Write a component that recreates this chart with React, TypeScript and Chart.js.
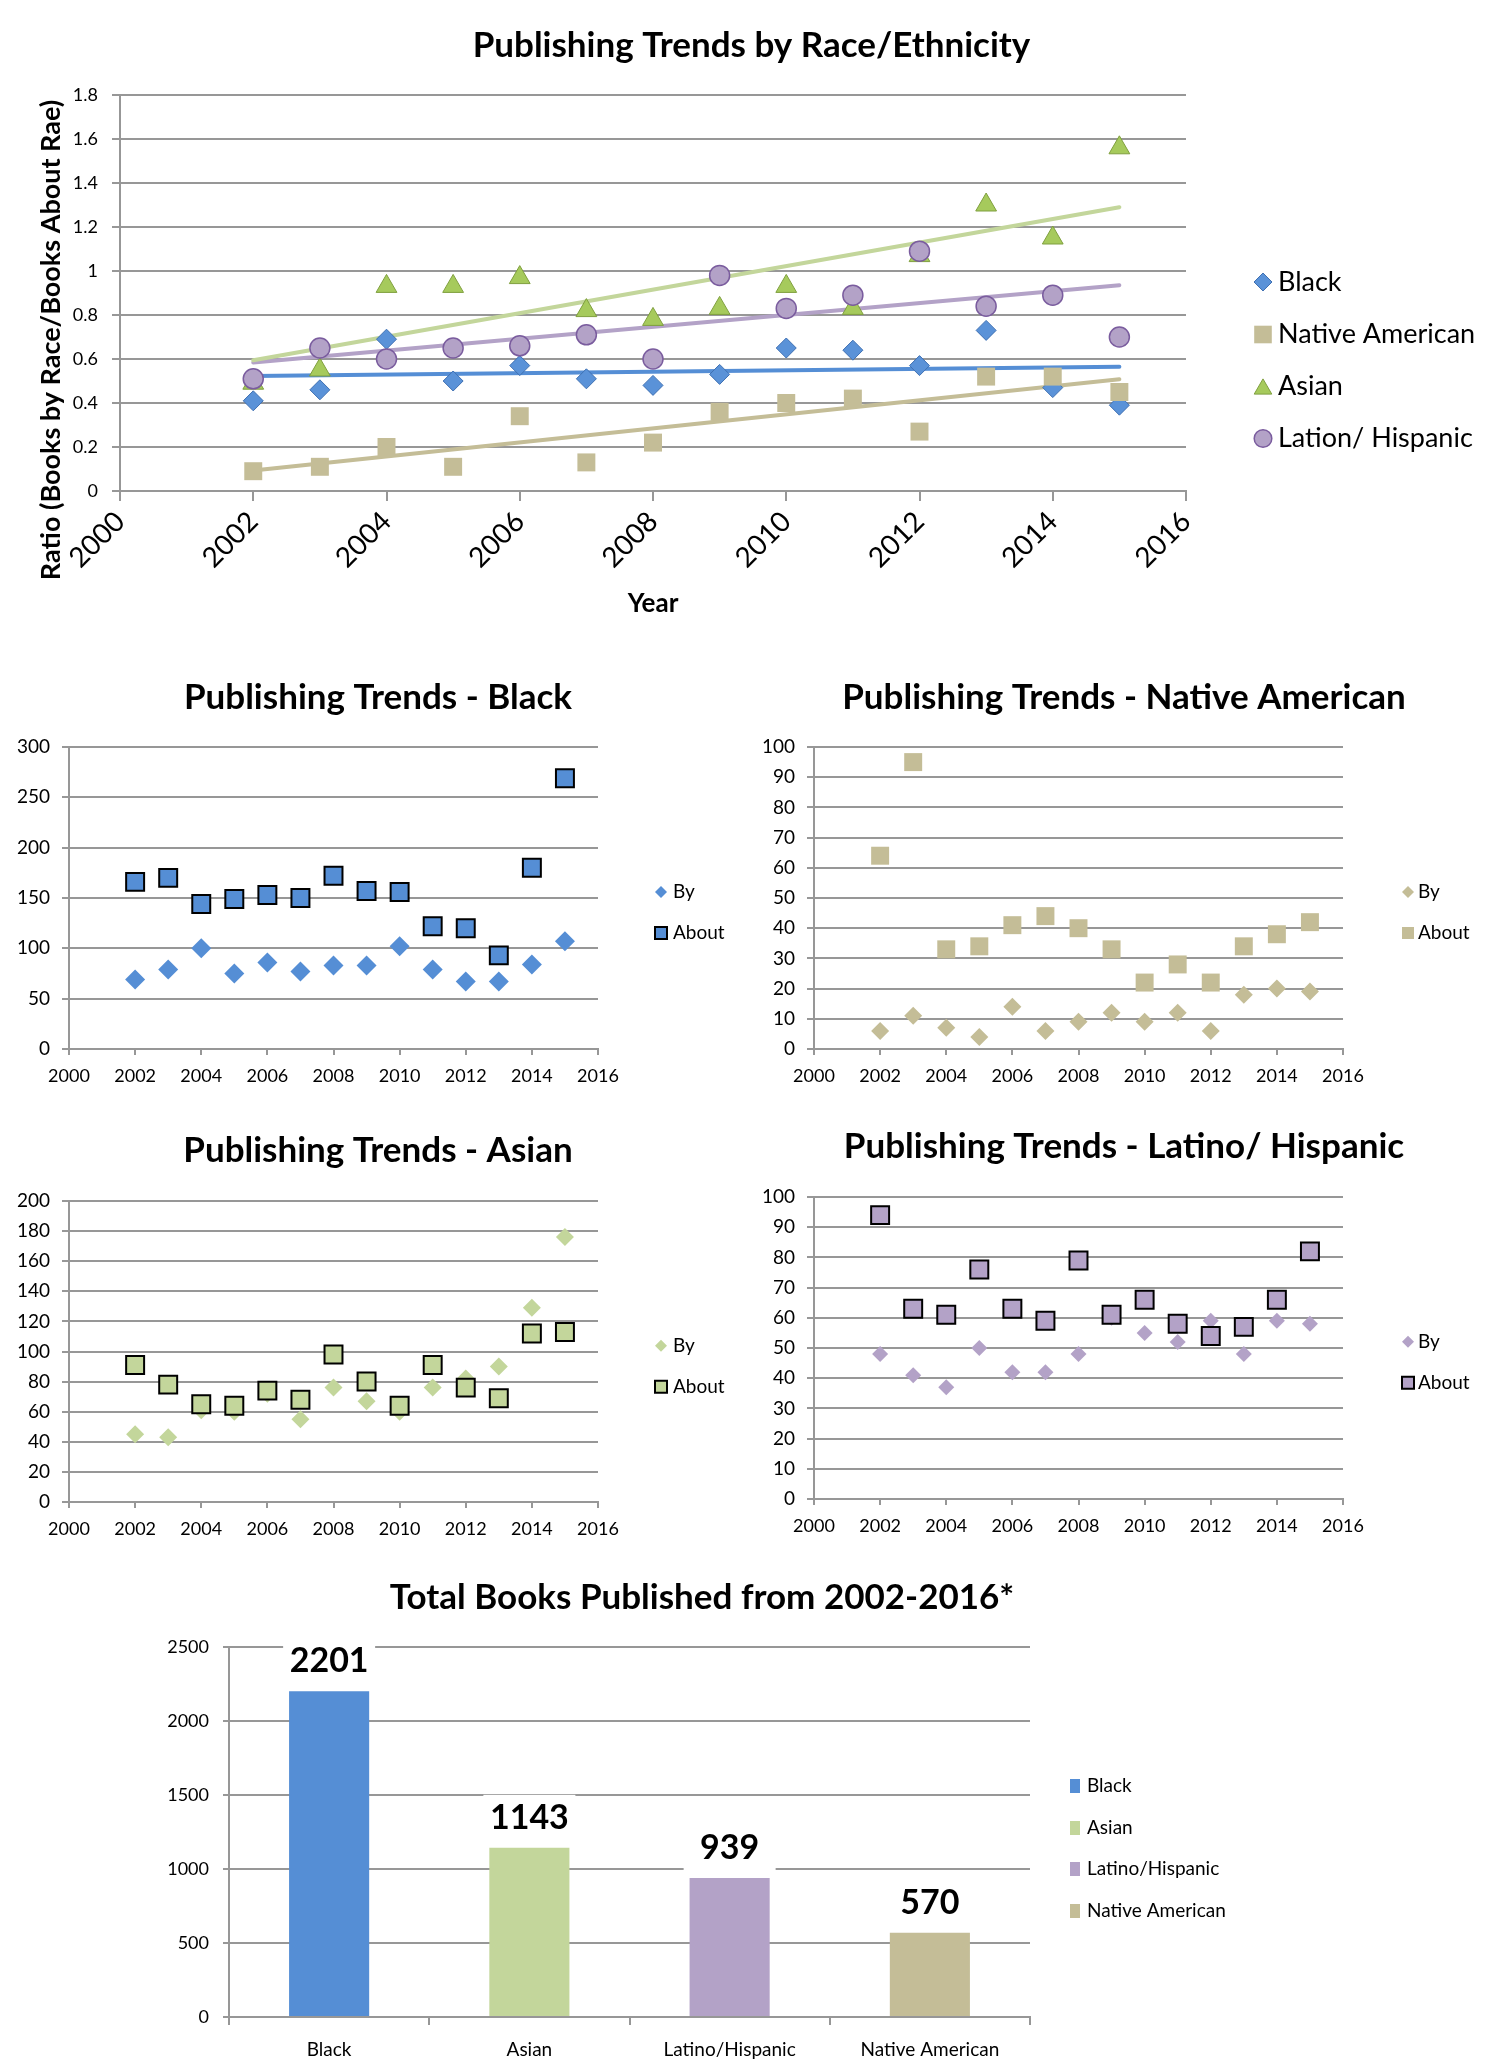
import React, { useEffect, useRef } from 'react';
import { Chart, registerables } from 'chart.js';

Chart.register(...registerables);
Chart.defaults.font.family = 'Lato, "Open Sans", sans-serif';
Chart.defaults.color = '#000';

// ---------------- data ----------------
const years = [2002, 2003, 2004, 2005, 2006, 2007, 2008, 2009, 2010, 2011, 2012, 2013, 2014, 2015];

const ratioBlack = [0.41, 0.46, 0.69, 0.5, 0.57, 0.51, 0.48, 0.53, 0.65, 0.64, 0.57, 0.73, 0.47, 0.39];
const ratioNative = [0.09, 0.11, 0.2, 0.11, 0.34, 0.13, 0.22, 0.36, 0.4, 0.42, 0.27, 0.52, 0.52, 0.45];
const ratioAsian = [0.49, 0.55, 0.93, 0.93, 0.97, 0.82, 0.78, 0.83, 0.93, 0.83, 1.07, 1.3, 1.15, 1.56];
const ratioLatino = [0.51, 0.65, 0.6, 0.65, 0.66, 0.71, 0.6, 0.98, 0.83, 0.89, 1.09, 0.84, 0.89, 0.7];

const trendYears = [2002, 2015];
const trendBlack = [0.523, 0.565];
const trendNative = [0.093, 0.508];
const trendAsian = [0.594, 1.29];
const trendLatino = [0.584, 0.935];

const blackBy = [69, 79, 100, 75, 86, 77, 83, 83, 102, 79, 67, 67, 84, 107];
const blackAbout = [166, 170, 144, 149, 153, 150, 172, 157, 156, 122, 120, 93, 180, 269];
const nativeBy = [6, 11, 7, 4, 14, 6, 9, 12, 9, 12, 6, 18, 20, 19];
const nativeAbout = [64, 95, 33, 34, 41, 44, 40, 33, 22, 28, 22, 34, 38, 42];
const asianBy = [45, 43, 61, 60, 72, 55, 76, 67, 60, 76, 82, 90, 129, 176];
const asianAbout = [91, 78, 65, 64, 74, 68, 98, 80, 64, 91, 76, 69, 112, 113];
const latinoBy = [48, 41, 37, 50, 42, 42, 48, 60, 55, 52, 59, 48, 59, 58];
const latinoAbout = [94, 63, 61, 76, 63, 59, 79, 61, 66, 58, 54, 57, 66, 82];

const totalCategories = ['Black', 'Asian', 'Latino/Hispanic', 'Native American'];
const totalBooks = [2201, 1143, 939, 570];

// ---------------- styling ----------------
const GRID = '#979797';
const C_BLACK = '#558ed5';
const C_NATIVE = '#c4bd97';
const C_ASIAN = '#c3d69b';
const C_LATINO = '#b3a2c7';

const pts = (xs: number[], ys: number[]) => xs.map((x, i) => ({ x, y: ys[i] }));

type Box = { left: number; top: number; width: number; height: number };
type Area = { L: number; T: number; R: number; B: number };

type LegendItem = {
  text: string; style: string; x: number; y: number; tx: number; size: number;
  fill: string; stroke?: string; lw?: number; w?: number; h?: number;
};

function drawMarker(ctx: CanvasRenderingContext2D, it: LegendItem) {
  const { x, y, size: r } = it;
  ctx.beginPath();
  switch (it.style) {
    case 'rectRot':
      ctx.moveTo(x, y - r); ctx.lineTo(x + r, y); ctx.lineTo(x, y + r); ctx.lineTo(x - r, y); ctx.closePath();
      break;
    case 'rect':
      ctx.rect(x - r, y - r, 2 * r, 2 * r);
      break;
    case 'bar':
      ctx.rect(x - (it.w || 10) / 2, y - (it.h || 14) / 2, it.w || 10, it.h || 14);
      break;
    case 'triangle': {
      const h = r * 1.732;
      ctx.moveTo(x, y - h / 2); ctx.lineTo(x + r, y + h / 2); ctx.lineTo(x - r, y + h / 2); ctx.closePath();
      break;
    }
    default:
      ctx.arc(x, y, r, 0, Math.PI * 2);
  }
  ctx.fillStyle = it.fill;
  ctx.fill();
  if (it.lw) { ctx.lineWidth = it.lw; ctx.strokeStyle = it.stroke || '#000'; ctx.stroke(); }
}

function decor(cfg: {
  legend?: LegendItem[]; legendFont?: string;
  yTitle?: { text: string; x: number; y: number; font: string };
  barLabels?: { font: string; offset: number; boxW: number; boxH: number };
}) {
  return {
    id: 'decor',
    afterDatasetsDraw(chart: any) {
      const b = cfg.barLabels;
      if (!b) return;
      const ctx: CanvasRenderingContext2D = chart.ctx;
      const meta = chart.getDatasetMeta(0);
      const values = chart.data.datasets[0].data;
      ctx.save();
      ctx.font = b.font; ctx.textAlign = 'center'; ctx.textBaseline = 'middle';
      meta.data.forEach((el: any, i: number) => {
        const cx = el.x, cy = el.y - b.offset;
        ctx.fillStyle = '#fff';
        ctx.fillRect(cx - b.boxW / 2, cy - b.boxH / 2, b.boxW, b.boxH);
        ctx.fillStyle = '#000';
        ctx.fillText(String(values[i]), cx, cy);
      });
      ctx.restore();
    },
    afterDraw(chart: any) {
      const ctx: CanvasRenderingContext2D = chart.ctx;
      ctx.save();
      if (cfg.legend) {
        cfg.legend.forEach((it) => {
          drawMarker(ctx, it);
          ctx.fillStyle = '#000';
          ctx.font = cfg.legendFont || '18px Lato';
          ctx.textAlign = 'left'; ctx.textBaseline = 'middle';
          ctx.fillText(it.text, it.tx, it.y);
        });
      }
      if (cfg.yTitle) {
        const t = cfg.yTitle;
        ctx.translate(t.x, t.y);
        ctx.rotate(-Math.PI / 2);
        ctx.font = t.font; ctx.fillStyle = '#000';
        ctx.textAlign = 'center'; ctx.textBaseline = 'middle';
        ctx.fillText(t.text, 0, 0);
      }
      ctx.restore();
    },
  };
}

// title box fills the space above the chart area, text middle at `middle`
function titleOpts(text: string, size: number, middle: number, areaTop: number) {
  const lh = size * 1.2;
  return {
    display: true, text, color: '#000',
    font: { size, weight: 'bold' as const, lineHeight: 1.2 },
    padding: { top: middle - lh / 2, bottom: areaTop - middle - lh / 2 },
  };
}

function gridY(min: number, max: number, step: number, yw: number, font: number, tickLength: number, padding: number, fmt: (v: number) => string) {
  return {
    min, max,
    afterFit: (s: any) => { s.width = yw; },
    ticks: { stepSize: step, font: { size: font }, padding, color: '#000', callback: (v: any) => fmt(Number(v)) },
    grid: { color: GRID, lineWidth: 2, tickLength },
    border: { color: GRID, width: 2 },
  };
}

// invisible right-hand spacer axis: reserves room for the legend without shifting the title
function spacer(width: number) {
  return {
    type: 'linear', position: 'right', display: true, min: 0, max: 1,
    afterFit: (s: any) => { s.width = width; },
    ticks: { display: false },
    grid: { display: false, drawTicks: false },
    border: { display: false },
  };
}

const baseOptions = {
  responsive: false, animation: false, events: [] as string[],
  layout: { padding: 0 },
};

// ---------------- small scatter charts ----------------
function smallScatter(opts: {
  box: Box; area: Area; title: string; titleMid: number; yMax: number; yStep: number;
  by: number[]; about: number[]; color: string; byRadius: number; aboutBorder: boolean;
  legendX: number; legendTX: number; legendY: [number, number];
}) {
  const { box, area } = opts;
  const xh = box.height - area.B;
  return {
    type: 'scatter',
    data: {
      datasets: [
        {
          label: 'By', data: pts(years, opts.by), pointStyle: 'rectRot', pointRadius: opts.byRadius,
          backgroundColor: opts.color, borderColor: opts.color, borderWidth: 0, order: 2, yAxisID: 'y',
        },
        {
          label: 'About', data: pts(years, opts.about), pointStyle: 'rect', pointRadius: 12.7,
          backgroundColor: opts.color, borderColor: '#000', borderWidth: opts.aboutBorder ? 2 : 0, order: 1, yAxisID: 'y',
        },
      ],
    },
    options: {
      ...baseOptions,
      plugins: { legend: { display: false }, tooltip: { enabled: false }, title: titleOpts(opts.title, 35, opts.titleMid, area.T) },
      scales: {
        x: {
          type: 'linear', min: 2000, max: 2016,
          afterFit: (s: any) => { s.height = xh; },
          ticks: { stepSize: 2, autoSkip: false, maxRotation: 0, minRotation: 0, font: { size: 18 }, padding: 10, color: '#000', callback: (v: any) => String(v) },
          grid: { drawOnChartArea: false, drawTicks: true, tickLength: 6, color: GRID, lineWidth: 2 },
          border: { color: GRID, width: 2 },
        },
        y: gridY(0, opts.yMax, opts.yStep, area.L, 19, 7, 12, (v) => String(v)),
        y2: spacer(box.width - area.R),
      },
    },
    plugins: [
      decor({
        legendFont: '19px Lato',
        legend: [
          { text: 'By', style: 'rectRot', x: opts.legendX, y: opts.legendY[0], tx: opts.legendTX, size: 6, fill: opts.color },
          {
            text: 'About', style: 'rect', x: opts.legendX, y: opts.legendY[1], tx: opts.legendTX, size: 6,
            fill: opts.color, stroke: '#000', lw: opts.aboutBorder ? 2 : 0,
          },
        ],
      }),
    ],
  };
}

// ---------------- boxes ----------------
const BOX_TOP: Box = { left: 0, top: 0, width: 1503, height: 640 };
const BOX_BLACK: Box = { left: 0, top: 650, width: 756, height: 455 };
const BOX_NATIVE: Box = { left: 746, top: 650, width: 756, height: 455 };
const BOX_ASIAN: Box = { left: 0, top: 1105, width: 756, height: 440 };
const BOX_LATINO: Box = { left: 746, top: 1105, width: 756, height: 440 };
const BOX_BAR: Box = { left: 0, top: 1560, width: 1404, height: 512 };

function makeTop() {
  const area: Area = { L: 120, T: 95, R: 1186, B: 491 };
  const box = BOX_TOP;
  const xh = box.height - area.B;
  const trend = (ys: number[], color: string) => ({
    type: 'line', data: pts(trendYears, ys), showLine: true, pointRadius: 0, borderColor: color,
    borderWidth: 4, borderCapStyle: 'round', fill: false, order: 10, yAxisID: 'y',
  });
  return {
    type: 'scatter',
    data: {
      datasets: [
        { label: 'Black', data: pts(years, ratioBlack), pointStyle: 'rectRot', pointRadius: 10, backgroundColor: '#5a92d8', borderColor: '#3f70b2', borderWidth: 1, order: 4, yAxisID: 'y' },
        { label: 'Native American', data: pts(years, ratioNative), pointStyle: 'rect', pointRadius: 12.7, backgroundColor: C_NATIVE, borderColor: C_NATIVE, borderWidth: 0, order: 3, yAxisID: 'y' },
        { label: 'Asian', data: pts(years, ratioAsian), pointStyle: 'triangle', pointRadius: 12, backgroundColor: '#a6ca5c', borderColor: '#7f9f3e', borderWidth: 1, order: 2, yAxisID: 'y' },
        { label: 'Lation/ Hispanic', data: pts(years, ratioLatino), pointStyle: 'circle', pointRadius: 10, backgroundColor: C_LATINO, borderColor: '#7a5c9e', borderWidth: 1.5, order: 1, yAxisID: 'y' },
        trend(trendBlack, C_BLACK),
        trend(trendNative, C_NATIVE),
        trend(trendAsian, C_ASIAN),
        trend(trendLatino, C_LATINO),
      ],
    },
    options: {
      ...baseOptions,
      plugins: { legend: { display: false }, tooltip: { enabled: false }, title: titleOpts('Publishing Trends by Race/Ethnicity', 35, 46, area.T) },
      scales: {
        x: {
          type: 'linear', min: 2000, max: 2016,
          afterFit: (s: any) => { s.height = xh; },
          ticks: { stepSize: 2, autoSkip: false, minRotation: 45, maxRotation: 45, font: { size: 28 }, padding: 4, color: '#000', callback: (v: any) => String(v) },
          grid: { drawOnChartArea: false, drawTicks: true, tickLength: 10, color: GRID, lineWidth: 2 },
          border: { color: GRID, width: 2 },
          title: { display: true, text: 'Year', color: '#000', font: { size: 26, weight: 'bold' }, padding: { top: 0, bottom: 20.4 } },
        },
        y: gridY(0, 1.8, 0.2, area.L, 18, 8, 14, (v) => String(Math.round(v * 10) / 10)),
        y2: spacer(box.width - area.R),
      },
    },
    plugins: [
      decor({
        legendFont: '27px Lato',
        legend: [
          { text: 'Black', style: 'rectRot', x: 1263, y: 282, tx: 1278, size: 9, fill: '#5a92d8', stroke: '#3f70b2', lw: 1 },
          { text: 'Native American', style: 'rect', x: 1263, y: 334.5, tx: 1278, size: 8.8, fill: C_NATIVE },
          { text: 'Asian', style: 'triangle', x: 1263, y: 386.5, tx: 1278, size: 8.8, fill: '#a6ca5c', stroke: '#7f9f3e', lw: 1 },
          { text: 'Lation/ Hispanic', style: 'circle', x: 1263, y: 438.5, tx: 1278, size: 8.8, fill: C_LATINO, stroke: '#7a5c9e', lw: 1.5 },
        ],
        yTitle: { text: 'Ratio (Books by Race/Books About Rae)', x: 51, y: 340, font: 'bold 27px Lato' },
      }),
    ],
  };
}

const makeBlack = () => smallScatter({
  box: BOX_BLACK, area: { L: 69, T: 97, R: 598, B: 399 }, title: 'Publishing Trends - Black', titleMid: 48,
  yMax: 300, yStep: 50, by: blackBy, about: blackAbout, color: C_BLACK, byRadius: 10, aboutBorder: true,
  legendX: 661, legendTX: 673, legendY: [242, 283],
});

const makeNative = () => smallScatter({
  box: BOX_NATIVE, area: { L: 68, T: 97, R: 597, B: 399 }, title: 'Publishing Trends - Native American', titleMid: 48,
  yMax: 100, yStep: 10, by: nativeBy, about: nativeAbout, color: C_NATIVE, byRadius: 9, aboutBorder: false,
  legendX: 662, legendTX: 672, legendY: [242, 283],
});

const makeAsian = () => smallScatter({
  box: BOX_ASIAN, area: { L: 69, T: 96, R: 598, B: 397 }, title: 'Publishing Trends - Asian', titleMid: 46,
  yMax: 200, yStep: 20, by: asianBy, about: asianAbout, color: C_ASIAN, byRadius: 9, aboutBorder: true,
  legendX: 661, legendTX: 673, legendY: [240.7, 281.7],
});

const makeLatino = () => smallScatter({
  box: BOX_LATINO, area: { L: 68, T: 92, R: 597, B: 394 }, title: 'Publishing Trends - Latino/ Hispanic', titleMid: 42,
  yMax: 100, yStep: 10, by: latinoBy, about: latinoAbout, color: C_LATINO, byRadius: 8, aboutBorder: true,
  legendX: 662, legendTX: 672, legendY: [236.7, 277.7],
});

function makeBar() {
  const box = BOX_BAR;
  const area: Area = { L: 229, T: 87, R: 1030, B: 457 };
  const xh = box.height - area.B;
  const colors = [C_BLACK, C_ASIAN, C_LATINO, C_NATIVE];
  return {
    type: 'bar',
    data: {
      labels: totalCategories,
      datasets: [{ data: totalBooks, backgroundColor: colors, barPercentage: 0.4, categoryPercentage: 1, yAxisID: 'y' }],
    },
    options: {
      ...baseOptions,
      plugins: { legend: { display: false }, tooltip: { enabled: false }, title: titleOpts('Total Books Published from 2002-2016*', 35, 38, area.T) },
      scales: {
        x: {
          afterFit: (s: any) => { s.height = xh; },
          ticks: { font: { size: 19 }, padding: 13, color: '#000' },
          grid: { drawOnChartArea: false, drawTicks: true, tickLength: 8, color: GRID, lineWidth: 2, offset: true },
          border: { color: GRID, width: 2 },
        },
        y: gridY(0, 2500, 500, area.L, 18, 6, 14, (v) => String(v)),
        y2: spacer(box.width - area.R),
      },
    },
    plugins: [
      decor({
        barLabels: { font: 'bold 34px Lato', offset: 30, boxW: 92, boxH: 46 },
        legendFont: '19px Lato',
        legend: totalCategories.map((c, i) => ({
          text: c, style: 'bar', x: 1075, y: [226, 268, 309, 351][i], tx: 1087, size: 7, w: 10, h: 14, fill: colors[i],
        })),
      }),
    ],
  };
}

function ChartCanvas({ box, make }: { box: Box; make: () => any }) {
  const ref = useRef<HTMLCanvasElement>(null);
  useEffect(() => {
    const chart = new Chart(ref.current as HTMLCanvasElement, make());
    return () => chart.destroy();
  }, []);
  return (
    <canvas
      ref={ref}
      width={box.width}
      height={box.height}
      style={{ position: 'absolute', left: box.left, top: box.top, width: box.width, height: box.height }}
    />
  );
}

export default function App() {
  return (
    <div style={{ position: 'absolute', left: 0, top: 0, width: 1503, height: 2072, background: '#fff', overflow: 'hidden' }}>
      <ChartCanvas box={BOX_TOP} make={makeTop} />
      <ChartCanvas box={BOX_BLACK} make={makeBlack} />
      <ChartCanvas box={BOX_NATIVE} make={makeNative} />
      <ChartCanvas box={BOX_ASIAN} make={makeAsian} />
      <ChartCanvas box={BOX_LATINO} make={makeLatino} />
      <ChartCanvas box={BOX_BAR} make={makeBar} />
    </div>
  );
}
